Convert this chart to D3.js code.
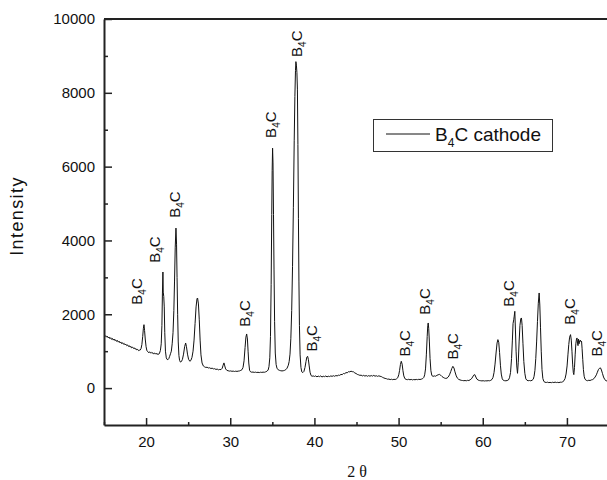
<!DOCTYPE html>
<html>
<head>
<meta charset="utf-8">
<script src="https://cdn.jsdelivr.net/npm/d3@7/dist/d3.min.js"></script>
<style>
  html, body { margin: 0; padding: 0; background: #fff; }
  svg { display: block; }
</style>
</head>
<body>
<div id="chart"></div>
<script>
// XRD pattern of the B4C cathode: [2θ (deg), intensity (counts)]
const pattern = [
  [15.0,1440],[15.1,1395],[15.2,1420],[15.3,1380],[15.4,1405],[15.5,1360],[15.6,1385],[15.7,1340],
  [15.8,1365],[15.9,1320],[16.0,1345],[16.1,1300],[16.2,1330],[16.3,1285],[16.4,1305],[16.5,1265],
  [16.6,1290],[16.7,1245],[16.8,1270],[16.9,1225],[17.0,1250],[17.1,1205],[17.2,1230],[17.3,1190],
  [17.4,1210],[17.5,1170],[17.6,1190],[17.7,1150],[17.8,1170],[17.9,1130],[18.0,1150],[18.1,1110],
  [18.2,1130],[18.3,1090],[18.4,1110],[18.5,1075],[18.6,1090],[18.7,1055],[18.8,1070],[18.9,1035],
  [19.0,1050],[19.1,1015],[19.2,1025],[19.3,1030],[19.4,1070],[19.5,1180],[19.6,1400],[19.68,1620],
  [19.75,1718],[19.82,1560],[19.9,1330],[20.0,1120],[20.1,1010],[20.2,990],[20.3,960],[20.4,985],
  [20.5,950],[20.6,970],[20.7,940],[20.8,960],[20.9,930],[21.0,950],[21.1,920],[21.2,945],
  [21.3,910],[21.4,930],[21.5,915],[21.6,950],[21.7,1020],[21.8,1200],[21.88,1700],[21.94,2550],
  [22.0,3145],[22.04,2600],[22.1,2480],[22.16,2200],[22.22,1500],[22.3,1000],[22.4,820],[22.5,775],
  [22.6,770],[22.7,800],[22.8,860],[22.9,930],[23.0,1000],[23.1,1200],[23.2,1500],[23.3,2100],
  [23.38,2900],[23.46,3800],[23.55,4335],[23.62,3900],[23.68,3000],[23.75,2000],[23.82,1250],[23.9,880],
  [23.98,750],[24.08,705],[24.2,720],[24.32,780],[24.45,920],[24.58,1120],[24.7,1222],[24.8,1120],
  [24.92,920],[25.05,780],[25.2,726],[25.32,750],[25.45,830],[25.58,1000],[25.7,1300],[25.82,1750],
  [25.94,2200],[26.05,2420],[26.12,2440],[26.22,2280],[26.32,1850],[26.42,1300],[26.52,900],[26.65,680],
  [26.8,600],[26.95,575],[27.1,560],[27.25,565],[27.4,545],[27.55,550],[27.7,530],[27.85,540],
  [28.0,520],[28.15,525],[28.3,505],[28.45,515],[28.6,495],[28.75,505],[28.9,500],[29.05,540],
  [29.15,620],[29.25,682],[29.35,600],[29.45,520],[29.6,480],[29.75,470],[29.9,460],[30.05,465],
  [30.2,455],[30.35,460],[30.5,450],[30.65,458],[30.8,452],[30.95,460],[31.1,465],[31.25,480],
  [31.4,500],[31.52,560],[31.64,740],[31.76,1100],[31.86,1380],[31.95,1466],[32.04,1330],[32.12,1000],
  [32.2,680],[32.3,480],[32.42,440],[32.55,430],[32.7,435],[32.85,425],[33.0,432],[33.15,422],
  [33.3,428],[33.45,420],[33.6,430],[33.75,425],[33.9,432],[34.05,428],[34.2,440],[34.35,455],
  [34.5,490],[34.6,580],[34.7,820],[34.78,1400],[34.86,2800],[34.93,4700],[34.98,5900],[35.03,6500],
  [35.08,6100],[35.14,4700],[35.2,3200],[35.27,1800],[35.35,950],[35.45,640],[35.55,540],[35.7,495],
  [35.85,480],[36.0,470],[36.15,465],[36.3,470],[36.45,480],[36.6,500],[36.75,540],[36.9,620],
  [37.0,720],[37.1,920],[37.2,1350],[37.3,2100],[37.4,3300],[37.5,4900],[37.6,6700],[37.68,7900],
  [37.75,8600],[37.8,8845],[37.86,8750],[37.92,8550],[37.98,8100],[38.04,6600],[38.1,4600],[38.16,2900],
  [38.22,1700],[38.3,900],[38.4,560],[38.5,440],[38.62,420],[38.75,450],[38.88,560],[39.0,720],
  [39.1,840],[39.19,861],[39.28,780],[39.38,600],[39.48,430],[39.6,340],[39.72,320],[39.85,330],
  [40.0,315],[40.15,330],[40.3,305],[40.45,325],[40.6,310],[40.75,330],[40.9,300],[41.05,320],
  [41.2,310],[41.35,328],[41.5,305],[41.65,322],[41.8,312],[41.95,330],[42.1,318],[42.25,335],
  [42.4,320],[42.55,340],[42.7,330],[42.85,350],[43.0,345],[43.15,370],[43.3,365],[43.45,395],
  [43.6,390],[43.75,420],[43.9,415],[44.05,445],[44.2,440],[44.35,458],[44.5,445],[44.65,440],
  [44.8,410],[44.95,395],[45.1,370],[45.25,360],[45.4,345],[45.55,350],[45.7,330],[45.85,345],
  [46.0,325],[46.15,340],[46.3,320],[46.45,338],[46.6,322],[46.75,340],[46.9,325],[47.05,345],
  [47.2,322],[47.35,335],[47.5,318],[47.65,332],[47.8,320],[47.95,312],[48.1,290],[48.25,275],
  [48.4,262],[48.55,255],[48.7,240],[48.85,245],[49.0,230],[49.15,240],[49.3,228],[49.45,238],
  [49.6,232],[49.75,250],[49.9,280],[50.02,360],[50.12,480],[50.22,640],[50.32,726],[50.42,650],
  [50.52,470],[50.62,330],[50.75,255],[50.9,235],[51.05,228],[51.2,238],[51.35,225],[51.5,235],
  [51.65,222],[51.8,232],[51.95,225],[52.1,235],[52.25,228],[52.4,238],[52.55,232],[52.7,242],
  [52.85,255],[53.0,290],[53.1,360],[53.2,520],[53.3,900],[53.4,1400],[53.47,1700],[53.52,1764],
  [53.58,1620],[53.66,1250],[53.74,800],[53.84,470],[53.95,340],[54.1,318],[54.25,330],[54.4,322],
  [54.55,345],[54.7,360],[54.85,372],[55.0,350],[55.15,315],[55.3,290],[55.45,272],[55.6,262],
  [55.75,270],[55.9,300],[56.05,360],[56.2,450],[56.32,530],[56.45,590],[56.58,545],[56.7,440],
  [56.85,330],[57.0,265],[57.15,235],[57.3,222],[57.45,210],[57.6,205],[57.75,200],[57.9,205],
  [58.05,198],[58.2,210],[58.35,205],[58.5,225],[58.65,250],[58.8,300],[58.92,350],[59.05,365],
  [59.18,300],[59.3,245],[59.45,218],[59.6,205],[59.75,200],[59.9,195],[60.05,200],[60.2,192],
  [60.35,198],[60.5,195],[60.65,202],[60.8,198],[60.95,210],[61.1,235],[61.22,290],[61.34,420],
  [61.46,650],[61.58,950],[61.7,1220],[61.8,1313],[61.9,1240],[62.0,960],[62.1,620],[62.2,380],
  [62.32,250],[62.45,210],[62.6,200],[62.75,198],[62.9,205],[63.05,220],[63.18,280],[63.3,420],
  [63.42,800],[63.52,1300],[63.6,1750],[63.68,1850],[63.74,1950],[63.81,2080],[63.88,1600],[63.96,1000],
  [64.04,600],[64.13,400],[64.22,700],[64.32,1250],[64.42,1700],[64.52,1880],[64.6,1900],[64.68,1700],
  [64.78,1200],[64.88,720],[65.0,400],[65.12,250],[65.25,212],[65.4,200],[65.55,205],[65.7,198],
  [65.85,210],[66.0,240],[66.1,320],[66.2,480],[66.3,800],[66.4,1250],[66.5,1800],[66.6,2300],
  [66.7,2577],[66.78,2250],[66.86,1650],[66.95,1000],[67.04,500],[67.14,260],[67.26,180],[67.4,158],
  [67.55,152],[67.7,160],[67.85,148],[68.0,155],[68.15,146],[68.3,158],[68.45,150],[68.6,162],
  [68.75,150],[68.9,156],[69.05,148],[69.2,160],[69.35,158],[69.5,172],[69.65,200],[69.78,260],
  [69.9,380],[70.02,600],[70.12,900],[70.22,1180],[70.32,1380],[70.43,1448],[70.52,1300],[70.6,1000],
  [70.68,650],[70.76,420],[70.82,365],[70.9,560],[70.98,900],[71.06,1200],[71.14,1330],[71.2,1358],
  [71.26,1220],[71.32,1150],[71.38,1330],[71.44,1200],[71.52,1280],[71.6,1300],[71.68,1250],[71.74,1267],
  [71.8,1080],[71.88,780],[71.96,500],[72.05,320],[72.15,240],[72.3,210],[72.45,200],[72.6,212],
  [72.75,205],[72.9,222],[73.05,230],[73.2,255],[73.35,300],[73.5,360],[73.62,430],[73.74,500],
  [73.86,535],[73.99,547],[74.1,490],[74.22,400],[74.35,300],[74.5,230],[74.65,200],[74.8,190],
  [75.0,185]
];

// Peak annotations: label anchor in data units (2θ, intensity)
const peakLabelTheta = [19.51, 21.65, 24.03, 32.34, 35.43, 38.52, 40.30, 51.34, 53.72, 57.04, 63.69, 70.93, 74.14];
const peakLabelIntensity = [2260, 3396, 4614, 1664, 6779, 8972, 988, 853, 1989, 772, 2206, 1718, 853];

// Axis ticks
const xMajorTicks = [20, 30, 40, 50, 60, 70];
const xMinorTicks = [15, 25, 35, 45, 55, 65];
const yMajorTicks = [0, 2000, 4000, 6000, 8000, 10000];
const yMinorTicks = [1000, 3000, 5000, 7000, 9000];

const seriesName = "cathode";

const W = 607, H = 480;
const plotLeft = 104, plotRight = 609, plotTop = 19, plotBottom = 425;

const svg = d3.select("#chart").append("svg")
  .attr("width", W).attr("height", H)
  .style("font-family", "Arial, 'Liberation Sans', sans-serif");

const x = d3.scaleLinear().domain([15, 75]).range([plotLeft, plotRight]);
const y = d3.scaleLinear().domain([-1000, 10000]).range([plotBottom, plotTop]);

svg.append("defs").append("clipPath").attr("id", "plot-clip")
  .append("rect").attr("x", plotLeft).attr("y", plotTop)
  .attr("width", plotRight - plotLeft).attr("height", plotBottom - plotTop);

// diffraction trace
const line = d3.line().x(d => x(d[0])).y(d => y(d[1]));
svg.append("path")
  .datum(pattern)
  .attr("clip-path", "url(#plot-clip)")
  .attr("fill", "none")
  .attr("stroke", "#111")
  .attr("stroke-width", 1)
  .attr("stroke-linejoin", "round")
  .attr("d", line);

// top frame line
svg.append("line")
  .attr("x1", plotLeft).attr("x2", W).attr("y1", plotTop).attr("y2", plotTop)
  .attr("stroke", "#222").attr("stroke-width", 2);

// axes with inward ticks
const gx = svg.append("g").attr("transform", `translate(0,${plotBottom})`);
gx.call(d3.axisBottom(x).tickValues(xMajorTicks).tickSizeInner(-7).tickSizeOuter(0).tickPadding(11).tickFormat(d3.format("d")));
const gxm = svg.append("g").attr("transform", `translate(0,${plotBottom})`);
gxm.call(d3.axisBottom(x).tickValues(xMinorTicks).tickSizeInner(-3).tickSizeOuter(0).tickFormat(""));
gxm.select(".domain").remove();

const gy = svg.append("g").attr("transform", `translate(${plotLeft},0)`);
gy.call(d3.axisLeft(y).tickValues(yMajorTicks).tickSizeInner(-8).tickSizeOuter(0).tickPadding(9).tickFormat(d3.format("d")));
const gym = svg.append("g").attr("transform", `translate(${plotLeft},0)`);
gym.call(d3.axisLeft(y).tickValues(yMinorTicks).tickSizeInner(-4).tickSizeOuter(0).tickFormat(""));
gym.select(".domain").remove();

svg.selectAll(".domain").attr("stroke", "#222").attr("stroke-width", 2);
svg.selectAll(".tick line").attr("stroke", "#222").attr("stroke-width", 1.5);
svg.selectAll(".tick text")
  .attr("fill", "#111")
  .style("font-size", "15px")
  .style("font-family", "Arial, 'Liberation Sans', sans-serif");

// axis titles
svg.append("text")
  .attr("transform", `translate(23,216) rotate(-90)`)
  .attr("text-anchor", "middle")
  .style("font-size", "18px")
  .style("letter-spacing", "1.4px")
  .attr("fill", "#111")
  .text("Intensity");

svg.append("text")
  .attr("x", 357).attr("y", 477)
  .attr("text-anchor", "middle")
  .style("font-family", "'Liberation Serif', 'Times New Roman', serif")
  .style("font-size", "16px")
  .attr("fill", "#111")
  .text("2 θ");

// B4C peak labels (rotated)
const labels = svg.append("g").selectAll("text")
  .data(peakLabelTheta.map((t, i) => [t, peakLabelIntensity[i]]))
  .join("text")
  .attr("transform", d => `translate(${x(d[0])},${y(d[1])}) rotate(-90)`)
  .attr("text-anchor", "start")
  .style("font-size", "15px")
  .attr("fill", "#111");
labels.append("tspan").text("B");
labels.append("tspan").attr("dy", 4).style("font-size", "10px").text("4");
labels.append("tspan").attr("dy", -4).text("C");

// legend
const lg = svg.append("g");
lg.append("rect")
  .attr("x", 373.5).attr("y", 119.5).attr("width", 179).attr("height", 32)
  .attr("fill", "#fff").attr("stroke", "#333").attr("stroke-width", 1);
lg.append("line")
  .attr("x1", 386).attr("x2", 430).attr("y1", 134).attr("y2", 134)
  .attr("stroke", "#111").attr("stroke-width", 1);
const lt = lg.append("text")
  .attr("x", 435).attr("y", 141)
  .style("font-size", "19px")
  .attr("fill", "#111");
lt.append("tspan").text("B");
lt.append("tspan").attr("dy", 6).style("font-size", "12px").text("4");
lt.append("tspan").attr("dy", -6).text("C " + seriesName);
</script>
</body>
</html>
